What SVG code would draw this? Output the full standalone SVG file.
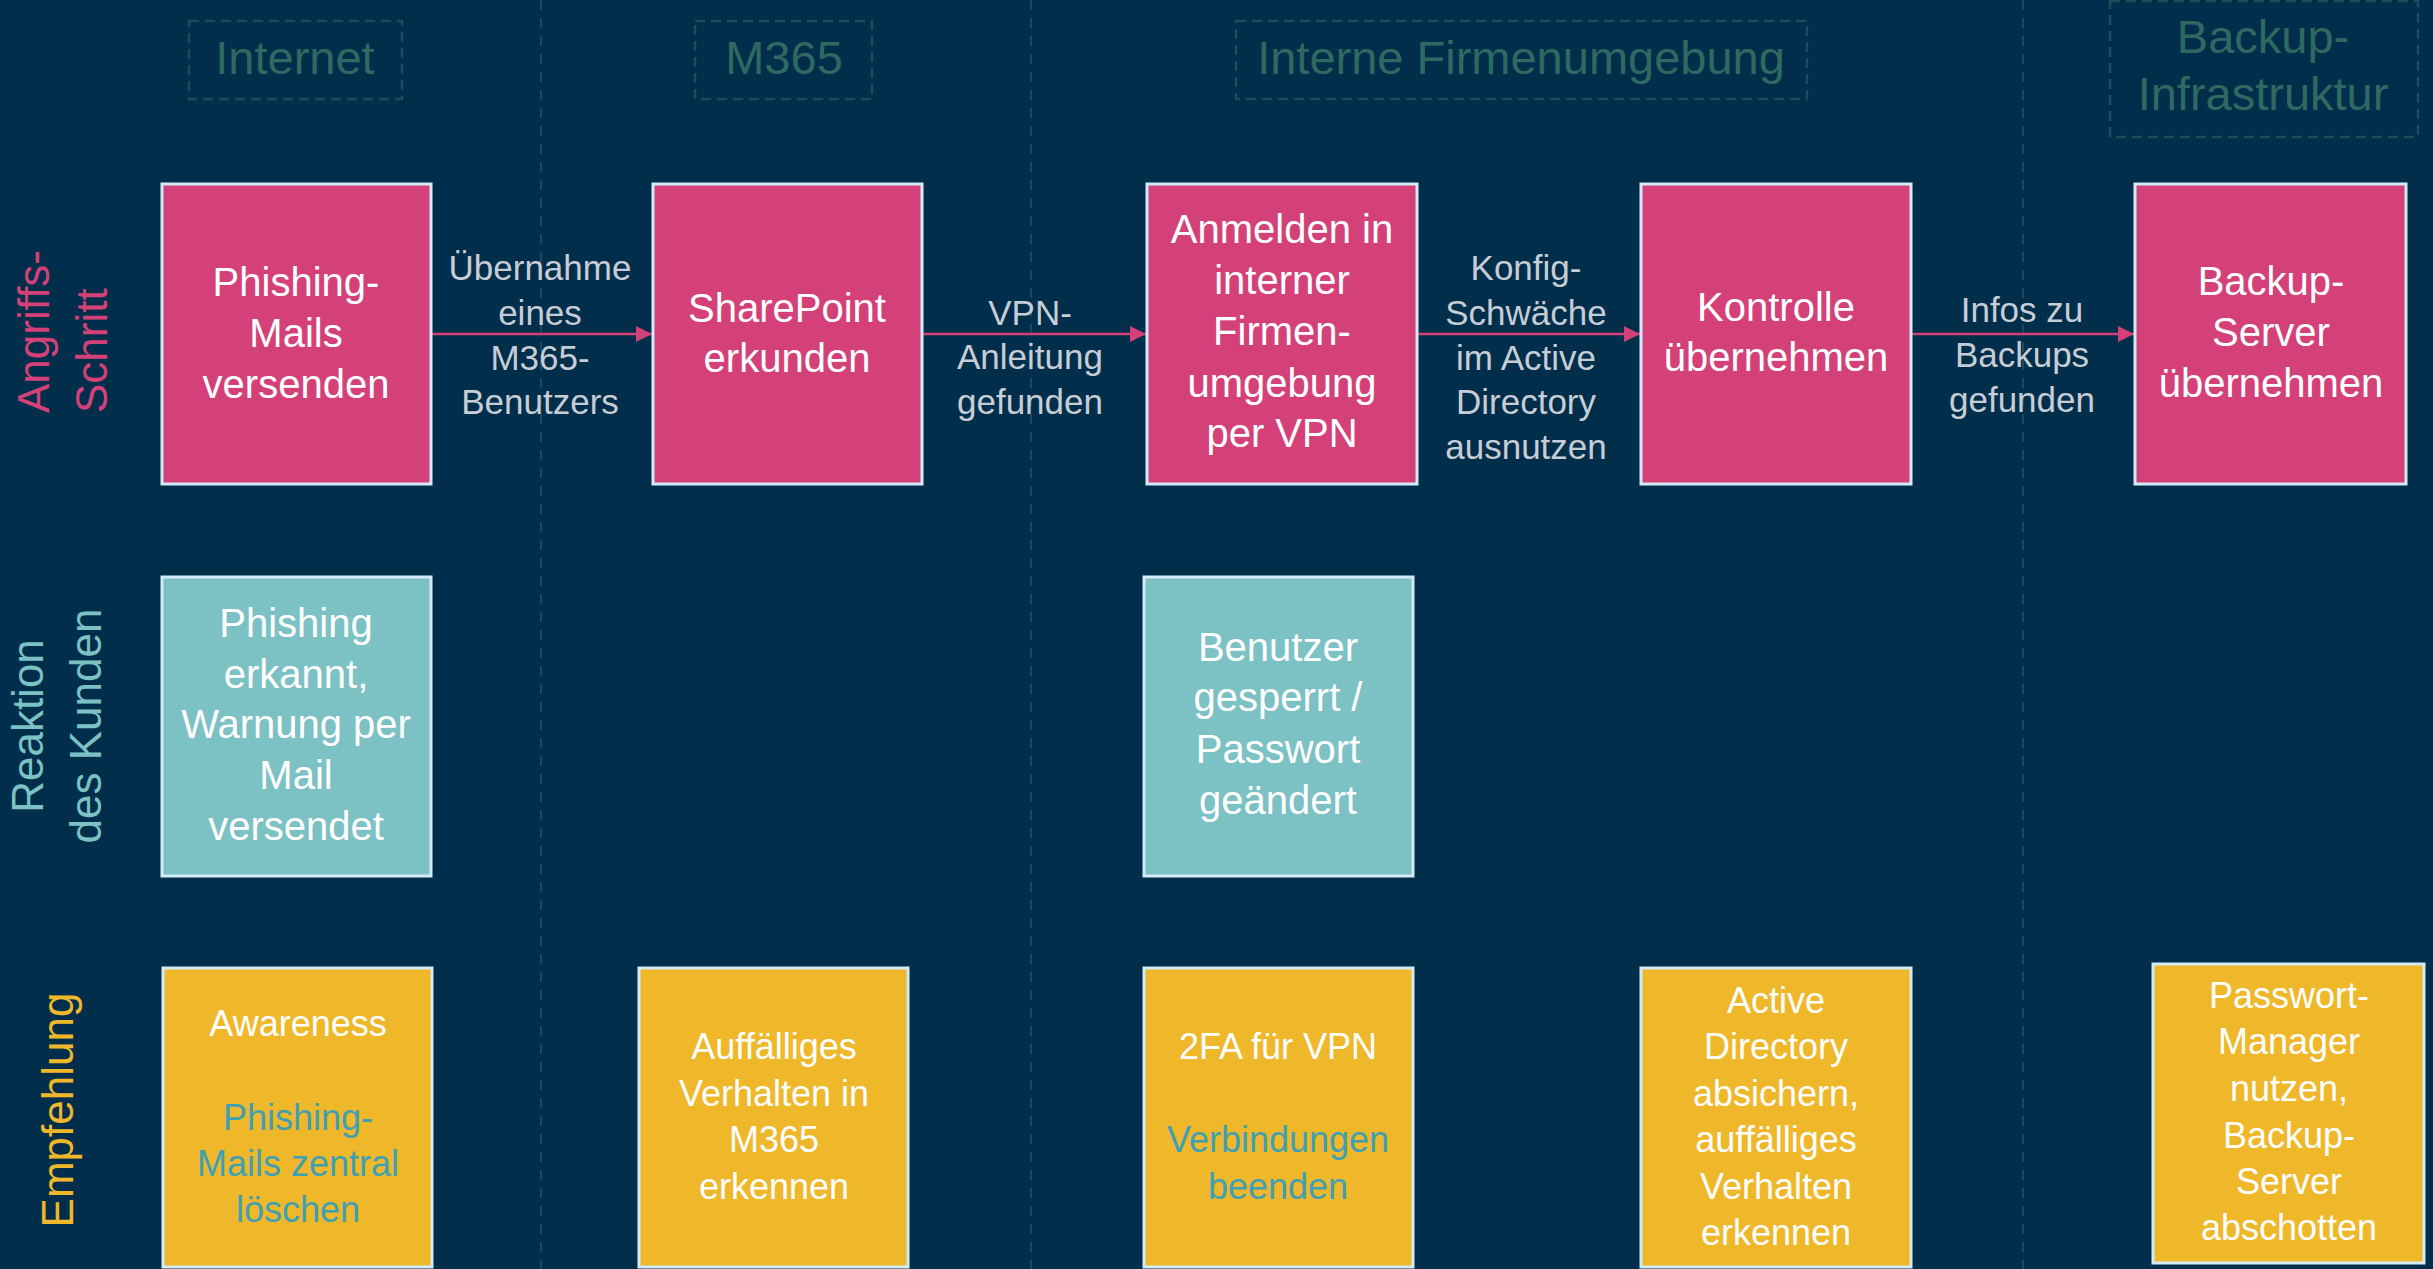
<svg xmlns="http://www.w3.org/2000/svg" width="2433" height="1269" viewBox="0 0 2433 1269">
  <style>
    text { font-family: "Liberation Sans", Arial, sans-serif; }
    .bg { fill: #012e4a; }
    .lane { stroke: #1b4a60; stroke-width: 2; stroke-dasharray: 10 8; fill: none; }
    .zone { stroke: #1d4c5a; stroke-width: 2.5; stroke-dasharray: 10 6; fill: none; }
    .zone-t { font-size: 47px; fill: #2e6a62; text-anchor: middle; }
    .box { stroke: #d3ebf6; stroke-width: 3; }
    .attack { fill: #d44178; }
    .react { fill: #7cc1c3; }
    .advice { fill: #efb72a; }
    .bt { font-size: 40px; fill: #ffffff; text-anchor: middle; }
    .at { font-size: 36px; fill: #ffffff; text-anchor: middle; }
    .at2 { font-size: 36px; fill: #3f9fb3; text-anchor: middle; }
    .lbl { font-size: 35px; fill: #c6cdd6; text-anchor: middle; }
    .flow { stroke: #d44178; stroke-width: 2.5; fill: none; marker-end: url(#head); }
    .row { font-size: 44px; }
  </style>
  <defs>
    <marker id="head" markerUnits="userSpaceOnUse" markerWidth="16" markerHeight="16" viewBox="0 0 15 15" refX="15" refY="7.5" orient="auto">
      <path d="M0,0 L15,7.5 L0,15 z" fill="#d44178"/>
    </marker>
  </defs>

  <rect class="bg" x="0" y="0" width="2433" height="1269"/>

  <!-- lane separators -->
  <g id="lanes">
    <line class="lane" x1="541" y1="0" x2="541" y2="1269"/>
    <line class="lane" x1="1031" y1="0" x2="1031" y2="1269"/>
    <line class="lane" x1="2023" y1="0" x2="2023" y2="1269"/>
  </g>

  <!-- zone headers -->
  <g id="zone-internet">
    <rect class="zone" x="189" y="21" width="213" height="78"/>
    <text class="zone-t" x="295" y="74">Internet</text>
  </g>
  <g id="zone-m365">
    <rect class="zone" x="695" y="21" width="177" height="78"/>
    <text class="zone-t" x="784" y="74">M365</text>
  </g>
  <g id="zone-intern">
    <rect class="zone" x="1236" y="21" width="571" height="78"/>
    <text class="zone-t" x="1521" y="74">Interne Firmenumgebung</text>
  </g>
  <g id="zone-backup">
    <rect class="zone" x="2110" y="1" width="308" height="136"/>
    <text class="zone-t" x="2263" y="53">Backup-</text>
    <text class="zone-t" x="2263" y="110">Infrastruktur</text>
  </g>

  <!-- row titles -->
  <g id="row-attack" class="row" fill="#d44178">
    <text transform="rotate(-90)" x="-413" y="49">Angriffs-</text>
    <text transform="rotate(-90)" x="-413" y="107">Schritt</text>
  </g>
  <g id="row-react" class="row" fill="#7cc1c3" text-anchor="middle">
    <text transform="rotate(-90)" x="-726" y="43">Reaktion</text>
    <text transform="rotate(-90)" x="-726" y="101">des Kunden</text>
  </g>
  <g id="row-advice" class="row" fill="#efb72a" text-anchor="middle">
    <text transform="rotate(-90)" x="-1110" y="73">Empfehlung</text>
  </g>

  <!-- connectors -->
  <g id="connectors">
    <line class="flow" x1="432" y1="334" x2="652" y2="334"/>
    <line class="flow" x1="923" y1="334" x2="1146" y2="334"/>
    <line class="flow" x1="1418" y1="334" x2="1640" y2="334"/>
    <line class="flow" x1="1912" y1="334" x2="2134" y2="334"/>
    <g class="lbl">
      <text class="lbl" x="540" y="280">Übernahme</text>
      <text class="lbl" x="540" y="325">eines</text>
      <text class="lbl" x="540" y="370">M365-</text>
      <text class="lbl" x="540" y="414">Benutzers</text>
      <text class="lbl" x="1030" y="325">VPN-</text>
      <text class="lbl" x="1030" y="369">Anleitung</text>
      <text class="lbl" x="1030" y="414">gefunden</text>
      <text class="lbl" x="1526" y="280">Konfig-</text>
      <text class="lbl" x="1526" y="325">Schwäche</text>
      <text class="lbl" x="1526" y="370">im Active</text>
      <text class="lbl" x="1526" y="414">Directory</text>
      <text class="lbl" x="1526" y="459">ausnutzen</text>
      <text class="lbl" x="2022" y="322">Infos zu</text>
      <text class="lbl" x="2022" y="367">Backups</text>
      <text class="lbl" x="2022" y="412">gefunden</text>
    </g>
  </g>

  <!-- attack steps -->
  <g id="step-phishing">
    <rect class="box attack" x="162" y="184" width="269" height="300"/>
    <text class="bt" x="296" y="296">Phishing-</text>
    <text class="bt" x="296" y="347">Mails</text>
    <text class="bt" x="296" y="398">versenden</text>
  </g>
  <g id="step-sharepoint">
    <rect class="box attack" x="653" y="184" width="269" height="300"/>
    <text class="bt" x="787" y="322">SharePoint</text>
    <text class="bt" x="787" y="372">erkunden</text>
  </g>
  <g id="step-vpn">
    <rect class="box attack" x="1147" y="184" width="270" height="300"/>
    <text class="bt" x="1282" y="243">Anmelden in</text>
    <text class="bt" x="1282" y="294">interner</text>
    <text class="bt" x="1282" y="345">Firmen-</text>
    <text class="bt" x="1282" y="397">umgebung</text>
    <text class="bt" x="1282" y="447">per VPN</text>
  </g>
  <g id="step-control">
    <rect class="box attack" x="1641" y="184" width="270" height="300"/>
    <text class="bt" x="1776" y="321">Kontrolle</text>
    <text class="bt" x="1776" y="371">übernehmen</text>
  </g>
  <g id="step-backup">
    <rect class="box attack" x="2135" y="184" width="271" height="300"/>
    <text class="bt" x="2271" y="295">Backup-</text>
    <text class="bt" x="2271" y="346">Server</text>
    <text class="bt" x="2271" y="397">übernehmen</text>
  </g>

  <!-- customer reactions -->
  <g id="react-phishing">
    <rect class="box react" x="162" y="577" width="269" height="299"/>
    <text class="bt" x="296" y="637">Phishing</text>
    <text class="bt" x="296" y="688">erkannt,</text>
    <text class="bt" x="296" y="738">Warnung per</text>
    <text class="bt" x="296" y="789">Mail</text>
    <text class="bt" x="296" y="840">versendet</text>
  </g>
  <g id="react-user">
    <rect class="box react" x="1144" y="577" width="269" height="299"/>
    <text class="bt" x="1278" y="661">Benutzer</text>
    <text class="bt" x="1278" y="711">gesperrt /</text>
    <text class="bt" x="1278" y="763">Passwort</text>
    <text class="bt" x="1278" y="814">geändert</text>
  </g>

  <!-- recommendations -->
  <g id="advice-awareness">
    <rect class="box advice" x="163" y="968" width="269" height="299"/>
    <text class="at" x="298" y="1036">Awareness</text>
    <text class="at2" x="298" y="1130">Phishing-</text>
    <text class="at2" x="298" y="1176">Mails zentral</text>
    <text class="at2" x="298" y="1222">löschen</text>
  </g>
  <g id="advice-m365">
    <rect class="box advice" x="639" y="968" width="269" height="299"/>
    <text class="at" x="774" y="1059">Auffälliges</text>
    <text class="at" x="774" y="1106">Verhalten in</text>
    <text class="at" x="774" y="1152">M365</text>
    <text class="at" x="774" y="1199">erkennen</text>
  </g>
  <g id="advice-vpn">
    <rect class="box advice" x="1144" y="968" width="269" height="299"/>
    <text class="at" x="1278" y="1059">2FA für VPN</text>
    <text class="at2" x="1278" y="1152">Verbindungen</text>
    <text class="at2" x="1278" y="1199">beenden</text>
  </g>
  <g id="advice-ad">
    <rect class="box advice" x="1641" y="968" width="270" height="299"/>
    <text class="at" x="1776" y="1013">Active</text>
    <text class="at" x="1776" y="1059">Directory</text>
    <text class="at" x="1776" y="1106">absichern,</text>
    <text class="at" x="1776" y="1152">auffälliges</text>
    <text class="at" x="1776" y="1199">Verhalten</text>
    <text class="at" x="1776" y="1245">erkennen</text>
  </g>
  <g id="advice-backup">
    <rect class="box advice" x="2153" y="964" width="271" height="299"/>
    <text class="at" x="2289" y="1008">Passwort-</text>
    <text class="at" x="2289" y="1054">Manager</text>
    <text class="at" x="2289" y="1101">nutzen,</text>
    <text class="at" x="2289" y="1148">Backup-</text>
    <text class="at" x="2289" y="1194">Server</text>
    <text class="at" x="2289" y="1240">abschotten</text>
  </g>
</svg>
